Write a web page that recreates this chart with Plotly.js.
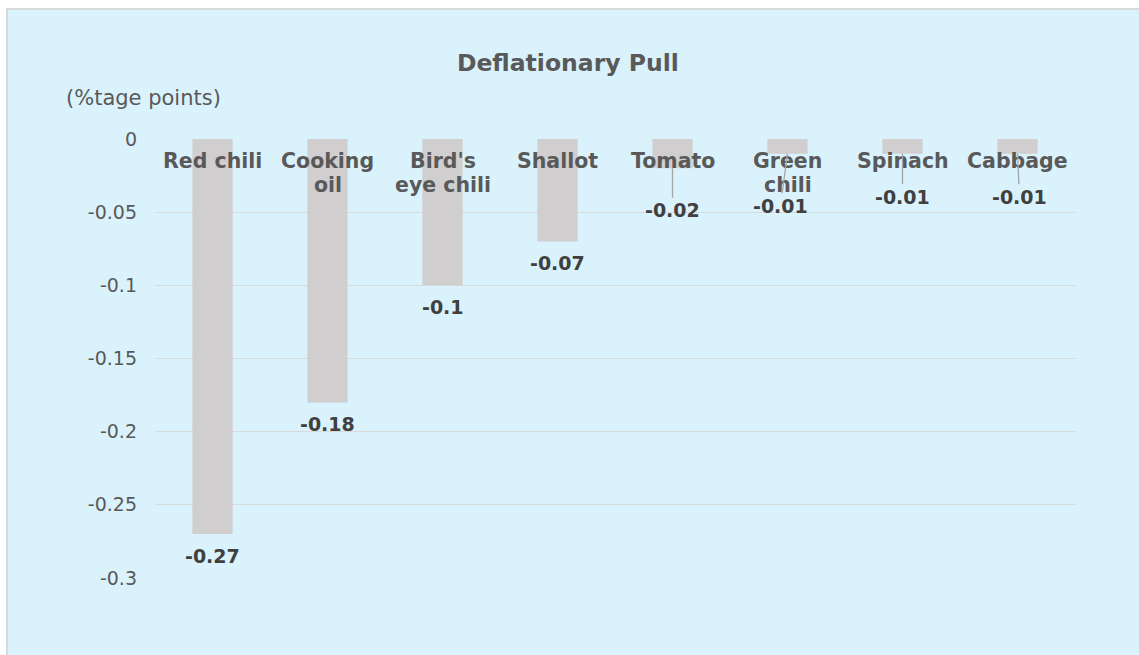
<!DOCTYPE html>
<html>
<head>
<meta charset="utf-8">
<script src="https://cdn.plot.ly/plotly-3.0.1.min.js"></script>
<style>
  html, body { margin: 0; padding: 0; background: #ffffff; width: 1139px; height: 655px; overflow: hidden; }
  #frame { position: absolute; left: 6px; top: 8px; width: 1140px; height: 660px; border-left: 2px solid #D9D9D9; border-top: 2px solid #D9D9D9; box-sizing: border-box; background: #DAF2FC; }
  #chart { position: absolute; left: 8px; top: 10px; width: 1131px; height: 645px; }
</style>
</head>
<body>
<div id="frame"></div>
<div id="chart"></div>
<script>
// Data
const categories = ["Red chili", "Cooking oil", "Bird's eye chili", "Shallot", "Tomato", "Green chili", "Spinach", "Cabbage"];
const categoryLabels = ["Red chili", "Cooking<br>oil", "Bird's<br>eye chili", "Shallot", "Tomato", "Green<br>chili", "Spinach", "Cabbage"];
const values = [-0.27, -0.18, -0.1, -0.07, -0.02, -0.01, -0.01, -0.01];
const valueLabels = ["-0.27", "-0.18", "-0.1", "-0.07", "-0.02", "-0.01", "-0.01", "-0.01"];
const tickValues = [0, -0.05, -0.1, -0.15, -0.2, -0.25, -0.3];
const tickLabels = ["0", "-0.05", "-0.1", "-0.15", "-0.2", "-0.25", "-0.3"];

// Label placement (leader-line offsets for small bars)
const leader = [null, null, null, null, {ax: 0, ay: 42}, {ax: -7, ay: 52}, {ax: 0, ay: 43}, {ax: 2, ay: 43}];

const FONT = "DejaVu Sans, Verdana, sans-serif";

const annotations = [];
categories.forEach((c, i) => {
  categoryLabels[i].split('<br>').forEach((line, k) => {
    annotations.push({
      x: c, y: 0, xref: 'x', yref: 'y',
      text: '<b>' + line + '</b>',
      showarrow: false, yanchor: 'top', yshift: -8 - 24 * k,
      font: {family: FONT, size: 20.5, color: '#595959'}
    });
  });
  const L = leader[i];
  if (L) {
    annotations.push({
      x: c, y: values[i], xref: 'x', yref: 'y',
      text: '<b>' + valueLabels[i] + '</b>',
      showarrow: true, arrowhead: 0, arrowwidth: 1.3, arrowcolor: '#A6A6A6',
      ax: L.ax, ay: L.ay, standoff: 0,
      font: {family: FONT, size: 19, color: '#404040'}
    });
  } else {
    annotations.push({
      x: c, y: values[i], xref: 'x', yref: 'y',
      text: '<b>' + valueLabels[i] + '</b>',
      showarrow: false, yanchor: 'middle', yshift: -22,
      font: {family: FONT, size: 19, color: '#404040'}
    });
  }
});
annotations.push({
  xref: 'paper', yref: 'paper', x: -0.099, y: 1.093, xanchor: 'left', yanchor: 'middle',
  text: '(%tage points)', showarrow: false,
  font: {family: FONT, size: 21, color: '#595959'}
});

const trace = {
  type: 'bar', x: categories, y: values,
  marker: {color: '#D0CECE'}, width: 0.35,
  hoverinfo: 'x+y'
};

const layout = {
  width: 1131, height: 645,
  paper_bgcolor: 'rgba(0,0,0,0)', plot_bgcolor: 'rgba(0,0,0,0)',
  margin: {l: 147, r: 64, t: 129, b: 77},
  title: {text: '<b>Deflationary Pull</b>', x: 0.495, xref: 'container', y: 0.918, yref: 'container', yanchor: 'middle',
          font: {family: FONT, size: 23.5, color: '#595959'}},
  xaxis: {showticklabels: false, showgrid: false, zeroline: false, showline: false, ticks: ''},
  yaxis: {range: [-0.3, 0], tickvals: tickValues, ticktext: tickLabels, showgrid: true, gridcolor: '#D9D9D9', gridwidth: 1.3,
          zeroline: false, showline: false, ticks: '', ticklabelstandoff: 17,
          tickfont: {family: FONT, size: 19, color: '#595959'}},
  showlegend: false,
  bargap: 0.65,
  annotations: annotations
};

Plotly.newPlot('chart', [trace], layout, {displayModeBar: false, staticPlot: true});
</script>
</body>
</html>
